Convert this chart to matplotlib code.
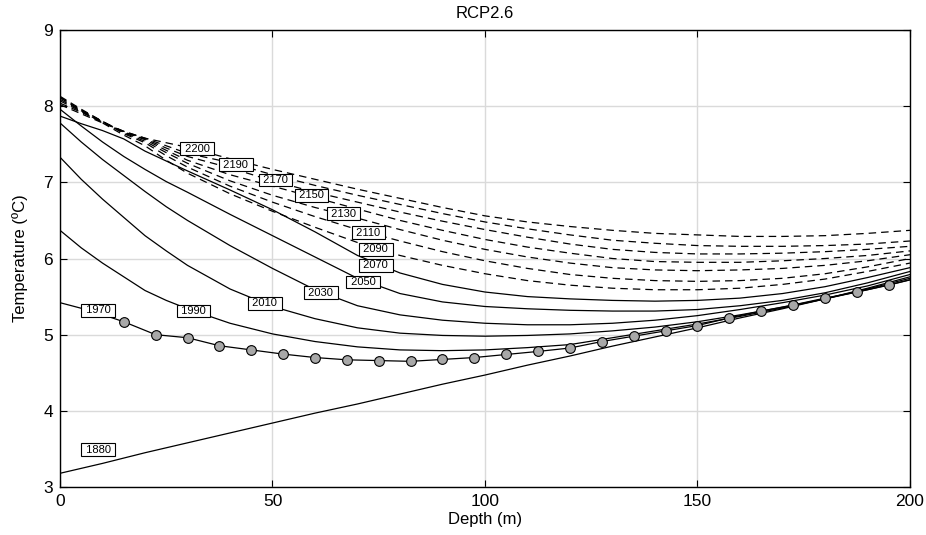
import numpy as np
import matplotlib
matplotlib.use('Agg')
import matplotlib.pyplot as plt

plt.rcParams['font.family'] = ['Liberation Sans', 'DejaVu Sans']

# depth grid (m) shared by the modelled profiles
depth = [0, 5, 10, 15, 20, 25, 30, 40, 50, 60, 70, 80, 90, 100,
         110, 120, 130, 140, 150, 160, 170, 180, 190, 200]

t1880 = [3.18, 3.245, 3.31, 3.38, 3.45, 3.515, 3.58, 3.71, 3.84, 3.97, 4.09, 4.22,
         4.35, 4.47, 4.60, 4.72, 4.85, 4.97, 5.09, 5.22, 5.34, 5.47, 5.59, 5.72]
t1990 = [6.37, 6.14, 5.94, 5.76, 5.58, 5.45, 5.34, 5.15, 5.01, 4.91, 4.84, 4.80,
         4.79, 4.80, 4.83, 4.87, 4.96, 5.05, 5.14, 5.24, 5.35, 5.47, 5.60, 5.74]
t2010 = [7.33, 7.04, 6.78, 6.54, 6.30, 6.10, 5.91, 5.60, 5.37, 5.21, 5.09, 5.02,
         4.99, 4.98, 4.99, 5.01, 5.05, 5.10, 5.17, 5.26, 5.36, 5.47, 5.61, 5.76]
t2030 = [7.78, 7.53, 7.30, 7.09, 6.88, 6.68, 6.50, 6.17, 5.87, 5.59, 5.38, 5.26,
         5.19, 5.15, 5.13, 5.13, 5.15, 5.19, 5.25, 5.33, 5.42, 5.52, 5.64, 5.79]
t2050 = [7.96, 7.74, 7.53, 7.34, 7.17, 7.01, 6.87, 6.58, 6.30, 6.02, 5.74, 5.54,
         5.43, 5.37, 5.34, 5.32, 5.31, 5.31, 5.33, 5.38, 5.45, 5.55, 5.68, 5.83]
t2070 = [7.87, 7.77, 7.68, 7.57, 7.41, 7.28, 7.15, 6.90, 6.64, 6.35, 6.04, 5.81,
         5.66, 5.56, 5.50, 5.47, 5.45, 5.44, 5.45, 5.48, 5.54, 5.63, 5.75, 5.88]
t2090 = [8.12, 7.94, 7.78, 7.62, 7.48, 7.29, 7.12, 6.85, 6.62, 6.41, 6.21, 6.04,
         5.91, 5.80, 5.71, 5.65, 5.61, 5.59, 5.59, 5.61, 5.66, 5.73, 5.83, 5.94]
t2110 = [8.13, 7.96, 7.80, 7.64, 7.52, 7.35, 7.20, 6.95, 6.74, 6.55, 6.38, 6.23,
         6.09, 5.97, 5.87, 5.79, 5.74, 5.71, 5.70, 5.71, 5.74, 5.80, 5.89, 6.00]
t2130 = [8.11, 7.95, 7.80, 7.65, 7.54, 7.39, 7.25, 7.02, 6.83, 6.67, 6.53, 6.38,
         6.24, 6.12, 6.02, 5.94, 5.88, 5.85, 5.84, 5.85, 5.87, 5.91, 5.97, 6.05]
t2150 = [8.09, 7.94, 7.80, 7.66, 7.56, 7.42, 7.29, 7.10, 6.95, 6.80, 6.65, 6.50,
         6.37, 6.25, 6.15, 6.07, 6.00, 5.96, 5.95, 5.95, 5.97, 6.00, 6.04, 6.10]
t2170 = [8.07, 7.93, 7.79, 7.66, 7.57, 7.45, 7.34, 7.19, 7.02, 6.87, 6.74, 6.61,
         6.49, 6.38, 6.28, 6.19, 6.12, 6.08, 6.06, 6.06, 6.07, 6.09, 6.12, 6.16]
t2190 = [8.04, 7.92, 7.79, 7.67, 7.58, 7.48, 7.38, 7.26, 7.10, 6.96, 6.83, 6.71,
         6.59, 6.48, 6.39, 6.31, 6.24, 6.20, 6.17, 6.16, 6.16, 6.17, 6.19, 6.23]
t2200 = [8.02, 7.90, 7.78, 7.67, 7.58, 7.52, 7.46, 7.31, 7.17, 7.04, 6.91, 6.79,
         6.67, 6.56, 6.48, 6.42, 6.37, 6.33, 6.31, 6.29, 6.29, 6.30, 6.33, 6.37]

# 1970 profile (circles = observed log)
depth1970 = [0, 7.5, 15, 22.5, 30, 37.5, 45, 52.5, 60, 67.5, 75, 82.5, 90, 97.5,
             105, 112.5, 120, 127.5, 135, 142.5, 150, 157.5, 165, 172.5, 180,
             187.5, 195, 200]
t1970 = [5.42, 5.31, 5.17, 5.00, 4.96, 4.855, 4.80, 4.745, 4.70, 4.67, 4.66, 4.65,
         4.675, 4.70, 4.74, 4.78, 4.825, 4.91, 4.98, 5.05, 5.12, 5.22, 5.31, 5.39,
         5.48, 5.56, 5.65, 5.72]

solid_profiles = [t1880, t1990, t2010, t2030, t2050, t2070]
dashed_profiles = [t2090, t2110, t2130, t2150, t2170, t2190, t2200]

# where the year tags sit (depth, temperature)
label_years = [1880, 1970, 1990, 2010, 2030, 2050, 2070, 2090, 2110, 2130,
               2150, 2170, 2190, 2200]
label_pos = [(9, 3.49), (9, 5.32), (31.4, 5.31), (48.2, 5.41), (61.4, 5.55),
             (71.3, 5.69), (74.3, 5.91), (74.3, 6.12), (72.5, 6.34), (66.7, 6.59),
             (59.2, 6.83), (50.7, 7.03), (41.4, 7.23), (32.3, 7.44)]

############### figura
fig = plt.figure(figsize=(9.26, 5.35), dpi=100)
ax = fig.add_axes([0.0648, 0.0897, 0.9179, 0.8542])

for t in solid_profiles:
    ax.plot(depth, t, color='k', lw=0.9)
for t in dashed_profiles:
    ax.plot(depth, t, color='k', lw=0.9, dashes=(6, 4))

ax.plot(depth1970, t1970, color='k', lw=0.9, marker='o', ms=7,
        mfc='#a8a8a8', mec='k', mew=0.8, markevery=list(range(2, 27)))

for year, (x, y) in zip(label_years, label_pos):
    ax.text(x, y, ' %d ' % year, fontsize=8, ha='center', va='center',
            bbox=dict(boxstyle='square,pad=0.12', fc='white', ec='k', lw=0.8),
            zorder=5)

ax.set_xlim(0, 200)
ax.set_ylim(3, 9)
ax.set_xticks([0, 50, 100, 150, 200])
ax.set_yticks([3, 4, 5, 6, 7, 8, 9])
ax.grid(True, color='#dadada', lw=1.0)
ax.set_axisbelow(True)
ax.tick_params(direction='in', top=True, right=True, length=5, width=0.8,
               labelsize=12.5, pad=5)
for s in ax.spines.values():
    s.set_linewidth(1.0)

ax.set_xlabel('Depth (m)', fontsize=12, labelpad=2)
ax.set_ylabel('Temperature (ºC)', fontsize=12, labelpad=11)
ax.set_title('RCP2.6', fontsize=12, pad=9)

fig.savefig('out.png', dpi=100)
